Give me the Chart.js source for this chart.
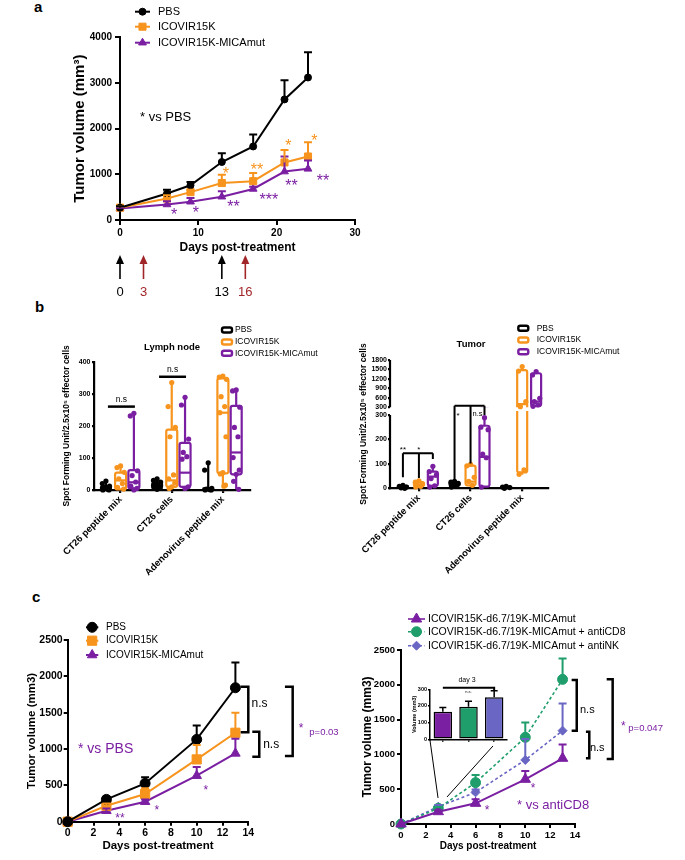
<!DOCTYPE html>
<html>
<head>
<meta charset="utf-8">
<title>Tumor growth and ELISpot</title>
<script src="https://cdn.jsdelivr.net/npm/chart.js@4.4.1/dist/chart.umd.min.js"></script>
<style>
  html, body { margin: 0; padding: 0; background: #fff; }
  #page { position: relative; width: 685px; height: 860px; overflow: hidden; background: #fff; }
  #page canvas { position: absolute; }
  .tag { position: absolute; font: bold 15px/15px "Liberation Sans", Arial, sans-serif; color: #000; }
</style>
</head>
<body>
<div id="page">
  <div class="tag" style="left:34px; top:-1px;">a</div>
  <div class="tag" style="left:35px; top:299px;">b</div>
  <div class="tag" style="left:32px; top:589px;">c</div>
  <canvas id="chartA" width="380" height="300" style="left:0; top:0;"></canvas>
  <canvas id="chartLymph" width="340" height="285" style="left:0; top:310px;"></canvas>
  <canvas id="chartTumor" width="345" height="285" style="left:340px; top:310px;"></canvas>
  <canvas id="chartC1" width="345" height="260" style="left:0; top:600px;"></canvas>
  <canvas id="chartC2" width="345" height="260" style="left:340px; top:600px;"></canvas>
  <canvas id="chartInset" width="110" height="80" style="left:405px; top:670px;"></canvas>
</div>
<script>
'use strict';

const FONT = '"Liberation Sans", Arial, Helvetica, sans-serif';
Chart.defaults.font.family = FONT;
Chart.defaults.color = '#000';
Chart.defaults.animation = false;
Chart.defaults.plugins.legend.display = false;
Chart.defaults.plugins.tooltip.enabled = false;

const BLACK = '#000000';
const ORANGE = '#F7941D';
const PURPLE = '#7B1FA2';
const GREEN = '#1F9E6C';
const SLATE = '#6966C4';
const DARKRED = '#A1262A';

// ---- panel a: tumour volume after treatment ----
const aSeries = ['PBS', 'ICOVIR15K', 'ICOVIR15K-MICAmut'];
const aDays = [0, 6, 9, 13, 17, 21, 24];
const aPbs = [270, 580, 760, 1270, 1610, 2640, 3120];
const aPbsErr = [30, 80, 70, 190, 260, 420, 550];
const aIco = [270, 470, 610, 810, 850, 1260, 1390];
const aIcoErr = [30, 70, 50, 180, 180, 270, 310];
const aMica = [250, 340, 400, 510, 680, 1060, 1120];
const aMicaErr = [20, 70, 80, 120, 50, 330, 180];
const aDoseDays = [0, 3, 13, 16];
const aStarText = ['*', '**', '*', '*', '*', '*', '**', '***', '**', '**'];
const aStarDay = [13.5, 17.5, 21.5, 24.8, 6.9, 9.7, 14.5, 19.0, 21.9, 25.9];
const aStarVal = [1090, 1190, 1710, 1820, 200, 240, 365, 530, 840, 950];

// ---- panel b: spot forming units ----
const bCats = ['CT26 peptide mix', 'CT26 cells', 'Adenovirus peptide mix'];
// box stats per category: [min, q1, median, q3, max]
const lnPbsBox = [[0, 0, 5, 12, 28], [2, 6, 12, 22, 35], [0, 0, 2, 6, 85]];
const lnIcoBox = [[0, 2, 30, 54, 75], [2, 10, 30, 188, 335], [12, 52, 241, 348, 355]];
const lnMicaBox = [[0, 5, 24, 62, 239], [5, 10, 54, 147, 289], [2, 49, 117, 262, 312]];
const lnPbsDots = [[28, 20, 12, 5, 2, 0, 0], [35, 30, 25, 18, 12, 8, 5, 2], [85, 62, 5, 3, 1, 0, 0]];
const lnIcoDots = [[75, 70, 55, 35, 20, 8, 3], [335, 260, 195, 166, 47, 35, 22, 10, 5], [355, 352, 345, 291, 260, 241, 166, 54, 50, 15, 12]];
const lnMicaDots = [[239, 231, 60, 45, 25, 12, 5, 0], [289, 265, 159, 117, 104, 96, 10, 5], [312, 309, 258, 195, 166, 101, 62, 49, 27, 2]];
const lnSigCat = [0, 1];
const lnSigVal = [260, 353];

const tuPbsBox = [[0, 2, 5, 10, 15], [5, 10, 18, 25, 28], [0, 1, 4, 7, 8]];
const tuIcoBox = [[5, 8, 15, 25, 30], [10, 12, 27, 93, 98], [55, 65, 400, 1480, 1590]];
const tuMicaBox = [[5, 10, 48, 68, 90], [5, 7, 129, 256, 289], [320, 340, 480, 1380, 1430]];
const tuPbsDots = [[12, 8, 5, 2, 0], [28, 25, 20, 15, 10, 5], [8, 5, 3, 0]];
const tuIcoDots = [[30, 25, 18, 12, 8, 5], [98, 92, 45, 28, 12], [1590, 1450, 478, 320, 75, 57]];
const tuMicaDots = [[90, 68, 55, 40, 10, 5], [289, 250, 240, 140, 125, 5], [1430, 1324, 585, 478, 373, 330]];
const tuTicksLo = [0, 100, 200, 300];
const tuTicksHi = [300, 600, 900, 1200, 1500, 1800];
const tuBrCat = [0, 1];
const tuBrTop = [143, 350];
const tuBrDrops = [[45, 42, 120], [34, 102, 300]];

// ---- panel c (left) ----
const cDays = [0, 3, 6, 10, 13];
const cPbs = [0, 307, 527, 1132, 1843];
const cPbsErr = [0, 35, 83, 190, 347];
const cIco = [0, 220, 380, 857, 1224];
const cIcoErr = [0, 30, 80, 200, 275];
const cMica = [0, 151, 275, 633, 940];
const cMicaErr = [0, 30, 30, 120, 200];
const cStarText = ['**', '*', '*'];
const cStarDay = [4.05, 6.9, 10.7];
const cStarVal = [90, 200, 477];
const cBrDay0 = [13.41, 14.31, 16.84];
const cBrDay1 = [14.0, 14.85, 17.44];
const cBrTop = [1857, 1238, 1857];
const cBrBot = [1230, 894, 904];

// ---- panel c (right) ----
const dSeries = ['ICOVIR15K-d6.7/19K-MICAmut', 'ICOVIR15K-d6.7/19K-MICAmut + antiCD8', 'ICOVIR15K-d6.7/19K-MICAmut + antiNK'];
const dDays = [0, 3, 6, 10, 13];
const dMica = [0, 177, 297, 642, 944];
const dMicaErr = [0, 20, 60, 120, 200];
const dCd8 = [0, 225, 594, 1245, 2078];
const dCd8Err = [0, 20, 110, 215, 300];
const dNk = [0, 249, 455, 920, 1341];
const dNkErr = [0, 25, 40, 300, 390];
const dStarText = ['*', '*'];
const dStarDay = [6.92, 10.62];
const dStarVal = [230, 546];
const dBrDay0 = [13.73, 14.88, 16.55];
const dBrDay1 = [14.14, 15.15, 17.03];
const dBrTop = [2069, 1326, 2078];
const dBrBot = [1341, 944, 934];
const insetVals = [166, 196, 252];
const insetErr = [25, 32, 40];
const insetLinkFrom = [[2.33, 1207], [7.4, 1121]];
const insetLinkTo = [[2.98, 374], [3.7, 388]];

// ---------- helpers ----------
function axisCfg(o) {
  const horizontal = o.pos === 'bottom';
  const ticks = { autoSkip: false, maxRotation: o.rot || 0, minRotation: o.rot || 0,
    padding: o.pad, color: '#000', font: { size: o.fs, weight: 'bold' } };
  if (o.step) ticks.stepSize = o.step;
  // plain numbers, no thousands separator
  ticks.callback = o.cb || ((v) => String(v));
  if (o.hideLabels) ticks.display = false;
  const cfg = {
    type: o.type || 'linear',
    position: o.pos,
    ticks,
    grid: { display: true, drawOnChartArea: false, drawTicks: true, tickLength: o.tl,
      color: '#000', lineWidth: o.lw, offset: false },
    border: { display: o.border !== false, color: '#000', width: o.lw },
    title: o.title
      ? { display: true, text: o.title, padding: 0, color: '#000', font: { size: o.tfs, weight: 'bold' } }
      : { display: false },
    afterFit: (s) => { if (horizontal) s.height = o.size; else s.width = o.size; },
  };
  if (o.min !== undefined) cfg.min = o.min;
  if (o.max !== undefined) cfg.max = o.max;
  if (o.type === 'category') cfg.offset = true;
  if (o.ticksAt) cfg.afterBuildTicks = (s) => { s.ticks = o.ticksAt.map(v => ({ value: v })); };
  if (o.stack) { cfg.stack = o.stack; cfg.stackWeight = o.stackWeight; cfg.weight = o.weight; }
  return cfg;
}

function lineSet(label, xs, ys, err, color, style, r, dash, lw) {
  return {
    label, errUp: err, capW: 4,
    data: xs.map((x, i) => ({ x, y: ys[i] })),
    borderColor: color, backgroundColor: color,
    pointBackgroundColor: color, pointBorderColor: color,
    pointStyle: style, pointRadius: r, pointHoverRadius: r, pointBorderWidth: 1,
    borderWidth: lw || 2, borderDash: dash || [], tension: 0, clip: false,
  };
}

const dotJitter = [0, -0.07, 0.07, -0.035, 0.035, -0.06, 0.06, 0, -0.05, 0.05, 0.02];

function dotSet(label, dots, off, color, yAxisID, keep) {
  const pts = [];
  dots.forEach((vals, c) => vals.forEach((v, k) => {
    if (keep(v)) pts.push({ x: c + off + dotJitter[k % dotJitter.length], y: v });
  }));
  return { label, data: pts, yAxisID, backgroundColor: color, borderColor: color,
    pointRadius: 2.6, pointBorderWidth: 0, clip: false };
}

function drawMarker(ctx, style, x, y, r) {
  ctx.beginPath();
  if (style === 'circle') {
    ctx.arc(x, y, r, 0, Math.PI * 2);
  } else if (style === 'rect') {
    const h = r * Math.SQRT1_2;
    ctx.rect(x - h, y - h, 2 * h, 2 * h);
  } else if (style === 'triangle') {
    for (let k = 0; k < 3; k++) {
      const a = k * 2 * Math.PI / 3;
      ctx.lineTo(x + Math.sin(a) * r, y - Math.cos(a) * r);
    }
    ctx.closePath();
  } else if (style === 'rectRot') {
    ctx.moveTo(x - r, y); ctx.lineTo(x, y - r); ctx.lineTo(x + r, y); ctx.lineTo(x, y + r);
    ctx.closePath();
  }
  ctx.fill();
  ctx.stroke();
}

// centre a glyph (asterisks sit high in the em box)
function drawGlyph(ctx, text, x, yc, font, color, align) {
  ctx.save();
  ctx.font = font; ctx.fillStyle = color; ctx.textAlign = align || 'center'; ctx.textBaseline = 'alphabetic';
  const m = ctx.measureText(text);
  ctx.fillText(text, x, yc + (m.actualBoundingBoxAscent - m.actualBoundingBoxDescent) / 2);
  ctx.restore();
}

function drawLabel(ctx, text, x, y, font, color, align) {
  ctx.save();
  ctx.font = font; ctx.fillStyle = color; ctx.textAlign = align || 'left'; ctx.textBaseline = 'middle';
  ctx.fillText(text, x, y);
  ctx.restore();
}

function drawBracket(ctx, x0, x1, yTop, yBot, lw) {
  ctx.save();
  ctx.strokeStyle = '#000'; ctx.lineWidth = lw; ctx.lineJoin = 'miter';
  ctx.beginPath();
  ctx.moveTo(x0, yTop); ctx.lineTo(x1, yTop); ctx.lineTo(x1, yBot); ctx.lineTo(x0, yBot);
  ctx.stroke();
  ctx.restore();
}

function lineLegend(ctx, chart, x0, x1, tx, rows, font, lw) {
  chart.data.datasets.forEach((ds, i) => {
    const y = rows[i];
    ctx.save();
    ctx.strokeStyle = ds.borderColor; ctx.fillStyle = ds.backgroundColor; ctx.lineWidth = lw;
    ctx.setLineDash(ds.borderDash || []);
    ctx.beginPath(); ctx.moveTo(x0, y); ctx.lineTo(x1, y); ctx.stroke();
    ctx.setLineDash([]); ctx.lineWidth = 1;
    drawMarker(ctx, ds.pointStyle, (x0 + x1) / 2, y, ds.pointRadius);
    ctx.restore();
    drawLabel(ctx, ds.label, tx, y, font, '#000');
  });
}

function boxLegend(ctx, labels, colors, x, tx, rows, font) {
  labels.forEach((lab, i) => {
    ctx.save();
    ctx.strokeStyle = colors[i]; ctx.fillStyle = '#fff'; ctx.lineWidth = 2.4; ctx.lineJoin = 'round';
    ctx.beginPath(); ctx.roundRect(x, rows[i] - 2.5, 10, 5, 2); ctx.fill(); ctx.stroke();
    ctx.restore();
    drawLabel(ctx, lab, tx, rows[i], font, '#000');
  });
}

function drawBoxSet(chart, yId, stats, off, color, hw) {
  const ctx = chart.ctx, xs = chart.scales.x, ys = chart.scales[yId];
  ctx.save();
  ctx.strokeStyle = color; ctx.lineWidth = 2.2; ctx.lineJoin = 'round'; ctx.fillStyle = '#fff';
  stats.forEach((s, c) => {
    const cx = xs.getPixelForValue(c + off);
    const [mn, q1, md, q3, mx] = s.map(v => ys.getPixelForValue(v));
    ctx.beginPath(); ctx.moveTo(cx, mn); ctx.lineTo(cx, q1); ctx.moveTo(cx, q3); ctx.lineTo(cx, mx); ctx.stroke();
    ctx.beginPath(); ctx.roundRect(cx - hw, q3, 2 * hw, Math.max(q1 - q3, 1), 2); ctx.fill(); ctx.stroke();
    ctx.beginPath(); ctx.moveTo(cx - hw, md); ctx.lineTo(cx + hw, md); ctx.stroke();
  });
  ctx.restore();
}

const errorBars = {
  id: 'errorBars',
  afterDatasetsDraw(chart) {
    const ctx = chart.ctx;
    for (let i = chart.data.datasets.length - 1; i >= 0; i--) {
      const ds = chart.data.datasets[i];
      if (!ds.errUp) continue;
      const meta = chart.getDatasetMeta(i);
      const ys = chart.scales[meta.yAxisID];
      ctx.save();
      ctx.strokeStyle = ds.errColor || ds.borderColor;
      ctx.lineWidth = ds.errWidth || 2;
      meta.data.forEach((el, j) => {
        if (!ds.errUp[j]) return;
        const d = ds.data[j];
        const v = typeof d === 'object' ? d.y : d;
        const yTop = ys.getPixelForValue(v + ds.errUp[j]);
        const cw = ds.capW || 4;
        ctx.beginPath();
        ctx.moveTo(el.x, el.y); ctx.lineTo(el.x, yTop);
        ctx.moveTo(el.x - cw, yTop); ctx.lineTo(el.x + cw, yTop);
        ctx.stroke();
      });
      ctx.restore();
    }
  }
};

// ---------- panel a ----------
new Chart(document.getElementById('chartA'), {
  type: 'line',
  data: { datasets: [
    lineSet(aSeries[0], aDays, aPbs, aPbsErr, BLACK, 'circle', 3.5),
    lineSet(aSeries[1], aDays, aIco, aIcoErr, ORANGE, 'rect', 5),
    lineSet(aSeries[2], aDays, aMica, aMicaErr, PURPLE, 'triangle', 4.5),
  ] },
  options: {
    responsive: false,
    layout: { padding: { left: 71, top: 37.3, right: 25, bottom: 44.8 } },
    scales: {
      x: axisCfg({ pos: 'bottom', min: 0, max: 30, step: 10, fs: 10, pad: 2, tl: 5, lw: 2, size: 35.2,
        title: 'Days post-treatment', tfs: 12 }),
      y: axisCfg({ pos: 'left', min: 0, max: 4000, step: 1000, fs: 10, pad: 3, tl: 5, lw: 2, size: 49,
        title: 'Tumor volume (mm³)', tfs: 15 }),
    },
  },
  plugins: [errorBars, {
    id: 'decoA',
    afterDraw(chart) {
      const ctx = chart.ctx, xs = chart.scales.x, ys = chart.scales.y;
      aStarText.forEach((t, i) => drawGlyph(ctx, t, xs.getPixelForValue(aStarDay[i]),
        ys.getPixelForValue(aStarVal[i]), '16px ' + FONT, i < 4 ? ORANGE : PURPLE));
      drawLabel(ctx, '* vs PBS', xs.getPixelForValue(2.55), ys.getPixelForValue(2250), '13px ' + FONT, '#000');
      lineLegend(ctx, chart, 135, 150, 158, [11.7, 26.7, 42.7], '11px ' + FONT, 2);
      aDoseDays.forEach((d, i) => {
        const ax = xs.getPixelForValue(d);
        const col = i % 2 === 0 ? BLACK : DARKRED;
        ctx.save();
        ctx.strokeStyle = col; ctx.fillStyle = col; ctx.lineWidth = 1.6;
        ctx.beginPath(); ctx.moveTo(ax, 279); ctx.lineTo(ax, 262); ctx.stroke();
        ctx.beginPath(); ctx.moveTo(ax, 255); ctx.lineTo(ax - 4, 264); ctx.lineTo(ax + 4, 264); ctx.closePath(); ctx.fill();
        ctx.restore();
        drawLabel(ctx, String(d), ax, 292, '13px ' + FONT, col, 'center');
      });
    }
  }],
});

// ---------- panel b, lymph node ----------
const lnOffsets = [-0.287, 0, 0.26];
new Chart(document.getElementById('chartLymph'), {
  type: 'scatter',
  data: { datasets: [
    dotSet(aSeries[0], lnPbsDots, lnOffsets[0], BLACK, 'y', () => true),
    dotSet(aSeries[1], lnIcoDots, lnOffsets[1], ORANGE, 'y', () => true),
    dotSet(aSeries[2], lnMicaDots, lnOffsets[2], PURPLE, 'y', () => true),
  ] },
  options: {
    responsive: false,
    layout: { padding: { left: 61.9, top: 51.7, right: 90, bottom: 0 } },
    scales: {
      x: axisCfg({ pos: 'bottom', min: -0.52, max: 2.53, fs: 9.5, pad: 1, tl: 3, lw: 2.2, size: 105, rot: 45,
        ticksAt: [0, 1, 2], cb: (v) => bCats[v] }),
      y: axisCfg({ pos: 'left', min: 0, max: 400, step: 100, fs: 7, pad: 1.5, tl: 2, lw: 2.2, size: 32.1,
        title: 'Spot Forming Unit/2.5x10⁵ effector cells', tfs: 8.5 }),
    },
  },
  plugins: [{
    id: 'lymphDeco',
    beforeDatasetsDraw(chart) {
      drawBoxSet(chart, 'y', lnPbsBox, lnOffsets[0], BLACK, 5);
      drawBoxSet(chart, 'y', lnIcoBox, lnOffsets[1], ORANGE, 5.5);
      drawBoxSet(chart, 'y', lnMicaBox, lnOffsets[2], PURPLE, 5.5);
    },
    afterDraw(chart) {
      const ctx = chart.ctx, xs = chart.scales.x, ys = chart.scales.y;
      lnSigCat.forEach((c, i) => {
        const x0 = xs.getPixelForValue(c + lnOffsets[0]) + 2;
        const x1 = xs.getPixelForValue(c + lnOffsets[2]) + 1;
        const y = ys.getPixelForValue(lnSigVal[i]);
        ctx.save(); ctx.strokeStyle = '#000'; ctx.lineWidth = 2.5;
        ctx.beginPath(); ctx.moveTo(x0, y); ctx.lineTo(x1, y); ctx.stroke(); ctx.restore();
        drawLabel(ctx, 'n.s', (x0 + x1) / 2, y - 7, '8.5px ' + FONT, '#000', 'center');
      });
      drawLabel(ctx, 'Lymph node', 172, 37, 'bold 9.5px ' + FONT, '#000', 'center');
      boxLegend(ctx, aSeries, [BLACK, ORANGE, PURPLE], 222, 235, [20, 32, 43.3], '8.5px ' + FONT);
    }
  }],
});

// ---------- panel b, tumour (broken axis) ----------
const tuOffsets = [-0.31, 0, 0.27];
const below = (v) => v <= 300;
const above = (v) => v > 300;
new Chart(document.getElementById('chartTumor'), {
  type: 'scatter',
  data: { datasets: [
    dotSet(aSeries[0], tuPbsDots, tuOffsets[0], BLACK, 'yLo', below),
    dotSet(aSeries[1], tuIcoDots, tuOffsets[1], ORANGE, 'yLo', below),
    dotSet(aSeries[2], tuMicaDots, tuOffsets[2], PURPLE, 'yLo', below),
    dotSet(aSeries[1], tuIcoDots, tuOffsets[1], ORANGE, 'yHi', above),
    dotSet(aSeries[2], tuMicaDots, tuOffsets[2], PURPLE, 'yHi', above),
  ] },
  options: {
    responsive: false,
    layout: { padding: { left: 0, top: 50, right: 137, bottom: 0 } },
    scales: {
      x: axisCfg({ pos: 'bottom', min: -0.56, max: 2.5, fs: 9.5, pad: 1, tl: 3, lw: 2.2, size: 106.7, rot: 45,
        ticksAt: [0, 1, 2], cb: (v) => bCats[v] }),
      yLo: axisCfg({ pos: 'left', min: 0, max: 331.5, fs: 7, pad: 1, tl: 2, lw: 2.2, size: 50, border: false,
        ticksAt: tuTicksLo, stack: 'tumor', stackWeight: 81, weight: 1 }),
      yHi: axisCfg({ pos: 'left', min: 300, max: 1800, fs: 7, pad: 1, tl: 2, lw: 2.2, size: 50, border: false,
        ticksAt: tuTicksHi, stack: 'tumor', stackWeight: 47.3, weight: 2 }),
    },
  },
  plugins: [{
    id: 'tumorDeco',
    beforeDatasetsDraw(chart) {
      const ctx = chart.ctx, area = chart.chartArea;
      [['yHi', 300, 1800], ['yLo', 0, 300]].forEach(([id, lo, hi]) => {
        const sc = chart.scales[id];
        const top = sc.getPixelForValue(hi) - 4, bot = sc.getPixelForValue(lo) + (lo === 0 ? 4 : 0);
        ctx.save();
        ctx.beginPath(); ctx.rect(area.left, top, area.right - area.left, bot - top); ctx.clip();
        drawBoxSet(chart, id, tuPbsBox, tuOffsets[0], BLACK, 5);
        drawBoxSet(chart, id, tuIcoBox, tuOffsets[1], ORANGE, 5);
        drawBoxSet(chart, id, tuMicaBox, tuOffsets[2], PURPLE, 5);
        ctx.restore();
      });
    },
    afterDraw(chart) {
      const ctx = chart.ctx, xs = chart.scales.x, lo = chart.scales.yLo, hi = chart.scales.yHi;
      const ax = chart.chartArea.left;
      ctx.save();
      ctx.strokeStyle = '#000'; ctx.lineWidth = 2.2;
      ctx.beginPath();
      ctx.moveTo(ax, lo.getPixelForValue(0) + 1); ctx.lineTo(ax, lo.getPixelForValue(300));
      ctx.moveTo(ax, hi.getPixelForValue(300)); ctx.lineTo(ax, hi.getPixelForValue(1800));
      ctx.stroke();
      // significance brackets
      ctx.lineWidth = 2;
      tuBrCat.forEach((c, b) => {
        const yTop = (b === 0 ? lo : hi).getPixelForValue(tuBrTop[b]);
        const xsB = tuOffsets.map(o => xs.getPixelForValue(c + o));
        ctx.beginPath();
        ctx.moveTo(xsB[0], yTop); ctx.lineTo(xsB[2], yTop);
        xsB.forEach((x, k) => { ctx.moveTo(x, yTop); ctx.lineTo(x, lo.getPixelForValue(tuBrDrops[b][k])); });
        ctx.stroke();
      });
      ctx.restore();
      const x0 = tuOffsets.map(o => xs.getPixelForValue(o));
      const x1 = tuOffsets.map(o => xs.getPixelForValue(1 + o));
      drawGlyph(ctx, '**', x0[0], lo.getPixelForValue(162), '8px ' + FONT, '#000');
      drawGlyph(ctx, '*', x0[1], lo.getPixelForValue(162), '8px ' + FONT, '#000');
      drawGlyph(ctx, '*', x1[0] + 2, lo.getPixelForValue(300), '8px ' + FONT, '#000', 'left');
      drawLabel(ctx, 'n.s', x1[1] + 2, lo.getPixelForValue(304), '7.5px ' + FONT, '#000');
      drawLabel(ctx, 'Tumor', 131, 34, 'bold 9.5px ' + FONT, '#000', 'center');
      ctx.save();
      ctx.translate(24, 114); ctx.rotate(-Math.PI / 2);
      drawLabel(ctx, 'Spot Forming Unit/2.5x10⁵ effector cells', 0, 0, 'bold 8.5px ' + FONT, '#000', 'center');
      ctx.restore();
      boxLegend(ctx, aSeries, [BLACK, ORANGE, PURPLE], 178.3, 196.7, [18.3, 30, 41.7], '8.5px ' + FONT);
    }
  }],
});

// ---------- panel c, left ----------
new Chart(document.getElementById('chartC1'), {
  type: 'line',
  data: { datasets: [
    lineSet(aSeries[0], cDays, cPbs, cPbsErr, BLACK, 'circle', 5),
    lineSet(aSeries[1], cDays, cIco, cIcoErr, ORANGE, 'rect', 6.5),
    lineSet(aSeries[2], cDays, cMica, cMicaErr, PURPLE, 'triangle', 5.5),
  ] },
  options: {
    responsive: false,
    layout: { padding: { left: 25.1, top: 40, right: 96.7, bottom: 7.1 } },
    scales: {
      x: axisCfg({ pos: 'bottom', min: 0, max: 14, step: 2, fs: 10.5, pad: 1, tl: 4, lw: 2, size: 31.2,
        title: 'Days post-treatment', tfs: 11.5 }),
      y: axisCfg({ pos: 'left', min: 0, max: 2500, step: 500, fs: 10.5, pad: 1, tl: 4, lw: 2, size: 42.6,
        title: 'Tumor volume (mm3)', tfs: 11.5 }),
    },
  },
  plugins: [errorBars, {
    id: 'decoC1',
    afterDraw(chart) {
      const ctx = chart.ctx, xs = chart.scales.x, ys = chart.scales.y;
      const X = (d) => xs.getPixelForValue(d), Y = (v) => ys.getPixelForValue(v);
      cStarText.forEach((t, i) => drawGlyph(ctx, t, X(cStarDay[i]), Y(cStarVal[i]), '12px ' + FONT, PURPLE));
      drawLabel(ctx, '* vs PBS', X(0.8), Y(1000), '14px ' + FONT, PURPLE);
      cBrTop.forEach((t, i) => drawBracket(ctx, X(cBrDay0[i]), X(cBrDay1[i]), Y(t), Y(cBrBot[i]), 2.5));
      drawLabel(ctx, 'n.s', X(14.25), Y(1630), '12px ' + FONT, '#000');
      drawLabel(ctx, 'n.s', X(15.15), Y(1055), '12px ' + FONT, '#000');
      drawGlyph(ctx, '*', X(18.1), Y(1330), '12px ' + FONT, PURPLE);
      drawLabel(ctx, 'p=0.03', X(18.73), Y(1230), '9.5px ' + FONT, PURPLE);
      lineLegend(ctx, chart, 86, 98.3, 106, [27.3, 40.7, 55], '10px ' + FONT, 2);
    }
  }],
});

// ---------- panel c, right ----------
new Chart(document.getElementById('chartC2'), {
  type: 'line',
  data: { datasets: [
    lineSet(dSeries[0], dDays, dMica, dMicaErr, PURPLE, 'triangle', 6),
    lineSet(dSeries[1], dDays, dCd8, dCd8Err, GREEN, 'circle', 5, [3, 2.5], 1.6),
    lineSet(dSeries[2], dDays, dNk, dNkErr, SLATE, 'rectRot', 4.5, [3, 2.5], 1.6),
  ] },
  options: {
    responsive: false,
    layout: { padding: { left: 20.8, top: 50, right: 110, bottom: 8 } },
    scales: {
      x: axisCfg({ pos: 'bottom', min: 0, max: 14, step: 2, fs: 9.5, pad: 1.5, tl: 4, lw: 2, size: 28,
        title: 'Days post-treatment', tfs: 10 }),
      y: axisCfg({ pos: 'left', min: 0, max: 2500, step: 500, fs: 9.5, pad: 2, tl: 4, lw: 2, size: 40.2,
        title: 'Tumor volume (mm3)', tfs: 12 }),
    },
  },
  plugins: [errorBars, {
    id: 'decoC2',
    afterDraw(chart) {
      const ctx = chart.ctx, xs = chart.scales.x, ys = chart.scales.y;
      const X = (d) => xs.getPixelForValue(d), Y = (v) => ys.getPixelForValue(v);
      dStarText.forEach((t, i) => drawGlyph(ctx, t, X(dStarDay[i]), Y(dStarVal[i]), '12px ' + FONT, PURPLE));
      drawLabel(ctx, '* vs antiCD8', X(9.33), Y(273), '13px ' + FONT, PURPLE);
      dBrTop.forEach((t, i) => drawBracket(ctx, X(dBrDay0[i]), X(dBrDay1[i]), Y(t), Y(dBrBot[i]), 2.5));
      drawLabel(ctx, 'n.s', X(14.4), Y(1638), '11px ' + FONT, '#000');
      drawLabel(ctx, 'n.s', X(15.2), Y(1088), '11px ' + FONT, '#000');
      drawGlyph(ctx, '*', X(17.88), Y(1447), '12px ' + FONT, PURPLE);
      drawLabel(ctx, 'p=0.047', X(18.29), Y(1375), '9.5px ' + FONT, PURPLE);
      ctx.save();
      ctx.strokeStyle = '#000'; ctx.lineWidth = 1;
      insetLinkFrom.forEach((p, i) => {
        ctx.beginPath();
        ctx.moveTo(X(p[0]), Y(p[1])); ctx.lineTo(X(insetLinkTo[i][0]), Y(insetLinkTo[i][1]));
        ctx.stroke();
      });
      ctx.restore();
      lineLegend(ctx, chart, 68, 85, 88, [19, 31.7, 45.7], '10.5px ' + FONT, 1.6);
    }
  }],
});

// ---------- inset, day 3 ----------
new Chart(document.getElementById('chartInset'), {
  type: 'bar',
  data: {
    labels: dSeries,
    datasets: [{
      data: insetVals, errUp: insetErr, errColor: '#000', errWidth: 1.5, capW: 3.5,
      backgroundColor: [PURPLE, GREEN, SLATE], borderColor: '#000', borderWidth: 1.5,
      borderSkipped: false, barPercentage: 0.72, categoryPercentage: 1,
    }],
  },
  options: {
    responsive: false,
    layout: { padding: { left: 5.7, top: 19.3, right: 8, bottom: 0 } },
    scales: {
      x: axisCfg({ type: 'category', pos: 'bottom', fs: 5, pad: 0, tl: 2.5, lw: 1.5, size: 10.7, hideLabels: true }),
      y: axisCfg({ pos: 'left', min: 0, max: 300, step: 100, fs: 5.5, pad: 1, tl: 2, lw: 1.5, size: 19.3,
        title: 'Volume (mm3)', tfs: 5.5 }),
    },
  },
  plugins: [errorBars, {
    id: 'decoInset',
    afterDraw(chart) {
      const ctx = chart.ctx, ys = chart.scales.y;
      const bars = chart.getDatasetMeta(0).data;
      const y = ys.getPixelForValue(310);
      ctx.save();
      ctx.strokeStyle = '#000'; ctx.lineWidth = 2;
      ctx.beginPath();
      ctx.moveTo(bars[0].x, y); ctx.lineTo(bars[2].x, y); ctx.lineTo(bars[2].x, y + 3);
      ctx.stroke();
      ctx.restore();
      drawLabel(ctx, 'n.s.', bars[1].x, y + 4, '4px ' + FONT, '#000', 'center');
      drawLabel(ctx, 'day 3', 62, 10, '7px ' + FONT, '#000', 'center');
    }
  }],
});
</script>
</body>
</html>
